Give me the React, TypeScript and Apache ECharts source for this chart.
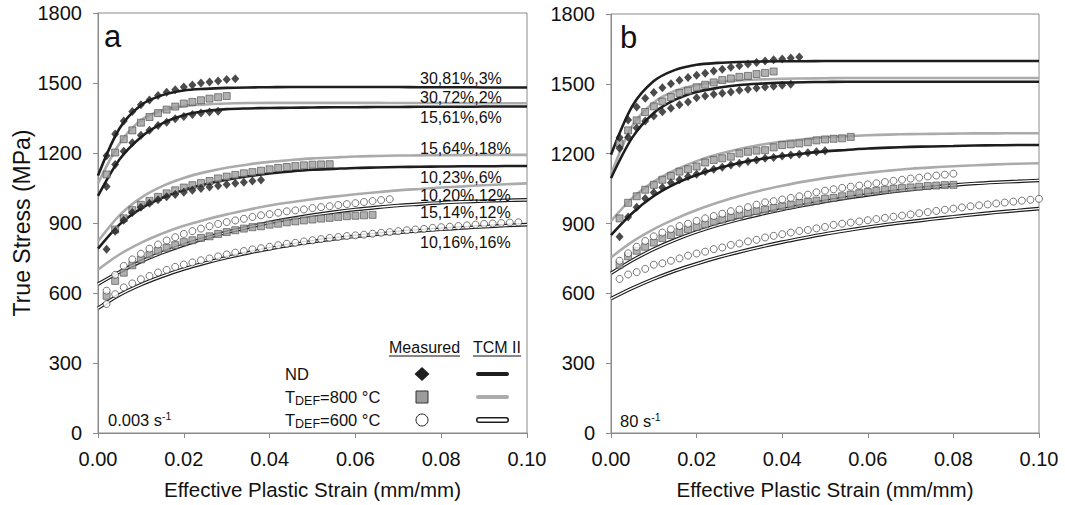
import React, { useEffect, useRef } from "react";
import * as echarts from "echarts";

// ---------- data ----------
const STRAIN_STEPS = [
  0.002, 0.004, 0.006, 0.008, 0.01, 0.012, 0.014, 0.016, 0.018, 0.02,
  0.022, 0.024, 0.026, 0.028, 0.03, 0.032, 0.034, 0.036, 0.038, 0.04,
  0.042, 0.044, 0.046, 0.048, 0.05, 0.052, 0.054, 0.056, 0.058, 0.06,
  0.062, 0.064, 0.066, 0.068, 0.07, 0.072, 0.074, 0.076, 0.078, 0.08,
  0.082, 0.084, 0.086, 0.088, 0.09, 0.092, 0.094, 0.096, 0.098, 0.1,
];
const LINE_STRAIN = [
  0, 0.005, 0.01, 0.015, 0.02, 0.025, 0.03, 0.035, 0.04, 0.045, 0.05,
  0.055, 0.06, 0.065, 0.07, 0.075, 0.08, 0.085, 0.09, 0.095, 0.1,
];

const X_TICKS = ["0.00", "0.02", "0.04", "0.06", "0.08", "0.10"];
const Y_TICKS = [0, 300, 600, 900, 1200, 1500, 1800];

// Panel a (0.003 s-1) — TCM II model lines
const lineA_ND1 = [1103, 1305, 1405, 1448, 1468, 1475, 1479, 1481, 1482, 1483, 1483, 1483, 1483, 1483, 1483, 1482, 1482, 1482, 1481, 1481, 1481];
const lineA_800_1 = [1070, 1240, 1340, 1383, 1401, 1408, 1412, 1414, 1415, 1415, 1415, 1415, 1415, 1415, 1414, 1414, 1414, 1414, 1413, 1413, 1413];
const lineA_ND2 = [1016, 1172, 1268, 1327, 1362, 1380, 1388, 1391, 1393, 1394, 1395, 1396, 1396, 1397, 1397, 1398, 1398, 1398, 1399, 1399, 1399];
const lineA_800_2 = [822, 933, 1008, 1058, 1093, 1118, 1137, 1151, 1162, 1170, 1177, 1181, 1185, 1187, 1189, 1190, 1191, 1191, 1192, 1192, 1192];
const lineA_ND3 = [790, 893, 962, 1008, 1042, 1066, 1085, 1100, 1112, 1121, 1128, 1132, 1136, 1138, 1140, 1141, 1142, 1143, 1143, 1144, 1144];
const lineA_800_3 = [700, 765, 815, 855, 888, 914, 937, 957, 975, 989, 1002, 1013, 1023, 1032, 1040, 1046, 1052, 1057, 1062, 1066, 1070];
const lineA_600_1 = [638, 690, 735, 773, 806, 835, 860, 882, 902, 919, 934, 947, 958, 967, 975, 981, 987, 991, 994, 997, 999];
const lineA_600_2 = [535, 592, 636, 672, 703, 729, 752, 772, 790, 806, 820, 832, 843, 852, 860, 867, 873, 879, 884, 889, 893];

// Panel a — measured
const measA_ND1 = [1188, 1281, 1337, 1378, 1407, 1427, 1446, 1460, 1471, 1483, 1491, 1500, 1504, 1509, 1515, 1518];
const measA_ND2 = [1056, 1151, 1207, 1244, 1276, 1297, 1318, 1332, 1347, 1356, 1365, 1371, 1376, 1379];
const measA_ND3 = [787, 865, 912, 945, 967, 985, 1000, 1012, 1022, 1032, 1040, 1048, 1054, 1060, 1065, 1070, 1075, 1080, 1084];
const measA_800_1 = [1108, 1202, 1259, 1297, 1330, 1354, 1371, 1386, 1399, 1412, 1419, 1426, 1433, 1439, 1444];
const measA_800_2 = [null, 872, 920, 955, 978, 995, 1012, 1027, 1040, 1052, 1062, 1071, 1080, 1091, 1099, 1106, 1113, 1118, 1124, 1130, 1136, 1140, 1144, 1147, 1150, 1151, 1152];
const measA_800_3 = [588, 652, 687, 719, 744, 765, 781, 794, 805, 818, 826, 836, 843, 853, 861, 869, 876, 882, 886, 893, 897, 903, 907, 911, 915, 919, 922, 926, 929, 931, 933, 935];
const measA_600_1 = [610, 678, 716, 744, 768, 790, 808, 825, 839, 853, 865, 876, 886, 896, 904, 911, 918, 926, 933, 938, 944, 950, 954, 958, 964, 968, 972, 977, 981, 985, 990, 994, 998, 1002];
const measA_600_2 = [553, 595, 624, 641, 659, 673, 688, 699, 712, 722, 731, 740, 748, 757, 765, 773, 780, 787, 792, 798, 805, 811, 815, 821, 826, 831, 836, 840, 844, 847, 850, 854, 858, 861, 865, 869, 872, 875, 879, 882, 884, 887, 890, 893, 896, 898, 900, 902, 903];

// Panel b (80 s-1) — TCM II model lines
const lineB_ND1 = [1195, 1405, 1512, 1560, 1582, 1590, 1594, 1596, 1597, 1597, 1598, 1598, 1598, 1598, 1598, 1598, 1598, 1598, 1598, 1598, 1598];
const lineB_800_1 = [1110, 1320, 1420, 1470, 1495, 1508, 1515, 1519, 1522, 1523, 1524, 1525, 1525, 1525, 1525, 1525, 1525, 1525, 1525, 1525, 1525];
const lineB_ND2 = [1095, 1270, 1375, 1432, 1465, 1483, 1495, 1501, 1505, 1507, 1508, 1509, 1509, 1509, 1509, 1509, 1509, 1509, 1509, 1509, 1509];
const lineB_800_2 = [910, 1010, 1080, 1130, 1168, 1197, 1220, 1238, 1252, 1262, 1270, 1275, 1279, 1282, 1284, 1285, 1286, 1287, 1287, 1288, 1288];
const lineB_ND3 = [850, 945, 1018, 1070, 1108, 1137, 1160, 1177, 1190, 1201, 1210, 1216, 1222, 1226, 1229, 1231, 1233, 1235, 1236, 1237, 1237];
const lineB_800_3 = [754, 822, 876, 920, 958, 990, 1018, 1042, 1062, 1080, 1095, 1107, 1118, 1127, 1135, 1141, 1146, 1150, 1154, 1157, 1159];
const lineB_600_1 = [686, 742, 790, 830, 864, 893, 918, 940, 960, 978, 995, 1010, 1023, 1035, 1046, 1056, 1065, 1072, 1077, 1081, 1085];
const lineB_600_2 = [577, 622, 662, 697, 727, 754, 778, 800, 820, 838, 855, 870, 884, 897, 908, 919, 929, 939, 948, 956, 964];

// Panel b — measured
const measB_ND1 = [1269, 1345, 1400, 1438, 1463, 1483, 1500, 1515, 1527, 1537, 1546, 1555, 1563, 1571, 1578, 1585, 1592, 1598, 1603, 1607, 1611, 1615];
const measB_ND2 = [1223, 1270, 1310, 1340, 1362, 1380, 1395, 1410, 1422, 1440, 1448, 1455, 1460, 1465, 1472, 1477, 1482, 1486, 1490, 1494, 1498];
const measB_ND3 = [843, 928, 970, 1007, 1033, 1055, 1075, 1088, 1102, 1112, 1123, 1133, 1142, 1151, 1159, 1166, 1173, 1180, 1184, 1190, 1194, 1198, 1204, 1208, 1212];
const measB_800_1 = [1244, 1300, 1343, 1379, 1403, 1424, 1443, 1460, 1471, 1485, 1496, 1506, 1516, 1523, 1530, 1534, 1542, 1547, 1553];
const measB_800_2 = [922, 989, 1017, 1045, 1066, 1088, 1105, 1123, 1133, 1145, 1162, 1173, 1180, 1187, 1201, 1208, 1213, 1215, 1227, 1237, 1240, 1244, 1249, 1257, 1261, 1264, 1266, 1272];
const measB_800_3 = [723, 759, 783, 800, 818, 837, 850, 864, 875, 885, 896, 908, 917, 927, 936, 946, 953, 960, 967, 974, 981, 989, 993, 998, 1006, 1010, 1017, 1024, 1030, 1035, 1041, 1045, 1049, 1052, 1055, 1058, 1061, 1063, 1065, 1066];
const measB_600_1 = [740, 772, 800, 825, 845, 861, 875, 889, 899, 911, 922, 932, 942, 953, 960, 970, 981, 991, 996, 1003, 1010, 1017, 1024, 1034, 1041, 1047, 1053, 1058, 1063, 1068, 1073, 1078, 1083, 1088, 1093, 1097, 1102, 1106, 1110, 1114];
const measB_600_2 = [662, 681, 691, 705, 723, 729, 740, 750, 762, 771, 779, 790, 797, 808, 814, 823, 830, 840, 847, 854, 861, 868, 872, 879, 885, 894, 899, 904, 909, 914, 919, 924, 929, 934, 939, 944, 949, 954, 959, 964, 969, 974, 978, 982, 986, 990, 994, 998, 1002, 1006];

// annotations (panel a)
const annotationsA = ["30,81%,3%", "30,72%,2%", "15,61%,6%", "15,64%,18%", "10,23%,6%", "10,20%,12%", "15,14%,12%", "10,16%,16%"];

// ---------- styling ----------
const FONT = "'Liberation Sans', Arial, Helvetica, sans-serif";
const AXIS_GRAY = "#8a8a8a";
const BLACK = "#1e1e1e";
const GRAY = "#ababab";

function lineSeries(ys: number[], color: string, width: number, gi: number, z = 2) {
  return {
    type: "line",
    xAxisIndex: gi,
    yAxisIndex: gi,
    data: LINE_STRAIN.map((x, i) => [x, ys[i]]),
    smooth: 0.3,
    showSymbol: false,
    silent: true,
    lineStyle: { color, width },
    z,
  };
}

function doubleLine(ys: number[], gi: number) {
  return [lineSeries(ys, BLACK, 3.6, gi, 2), lineSeries(ys, "#ffffff", 1.3, gi, 3)];
}

function measured(ys: (number | null)[], kind: "nd" | "800" | "600", gi: number) {
  const data: number[][] = [];
  ys.forEach((y, i) => {
    if (y !== null) data.push([STRAIN_STEPS[i], y]);
  });
  const base: any = {
    type: "scatter",
    xAxisIndex: gi,
    yAxisIndex: gi,
    data,
    silent: true,
    z: 5,
  };
  if (kind === "nd") {
    base.symbol = "diamond";
    base.symbolSize = [8, 9];
    base.itemStyle = { color: BLACK };
  } else if (kind === "800") {
    base.symbol = "rect";
    base.symbolSize = 7;
    base.itemStyle = { color: "#9c9c9c", borderColor: "#4a4a4a", borderWidth: 0.8 };
  } else {
    base.symbol = "circle";
    base.symbolSize = 7;
    base.itemStyle = { color: "#ffffff", borderColor: "#2a2a2a", borderWidth: 0.8 };
  }
  return base;
}

function xAxis(gi: number) {
  return {
    type: "value",
    gridIndex: gi,
    min: 0,
    max: 0.1,
    interval: 0.02,
    axisLine: { show: true, lineStyle: { color: AXIS_GRAY, width: 1 } },
    axisTick: { show: true, inside: false, length: 5, lineStyle: { color: AXIS_GRAY } },
    axisLabel: {
      fontFamily: FONT,
      fontSize: 20,
      color: "#111",
      margin: 16,
      formatter: (v: number) => X_TICKS[Math.round(v / 0.02)],
    },
    splitLine: { show: false },
    name: "Effective Plastic Strain (mm/mm)",
    nameLocation: "middle",
    nameGap: 46,
    nameTextStyle: { fontFamily: FONT, fontSize: 20.5, color: "#111" },
  };
}

function yAxis(gi: number, withName: boolean) {
  return {
    type: "value",
    gridIndex: gi,
    min: Y_TICKS[0],
    max: Y_TICKS[Y_TICKS.length - 1],
    interval: 300,
    axisLine: { show: true, lineStyle: { color: AXIS_GRAY, width: 1 } },
    axisTick: { show: true, inside: false, length: 5, lineStyle: { color: AXIS_GRAY } },
    axisLabel: { fontFamily: FONT, fontSize: 20, color: "#111", margin: 16, formatter: (v: number) => String(v) },
    splitLine: { show: false },
    name: withName ? "True Stress (MPa)" : "",
    nameLocation: "middle",
    nameGap: 64,
    nameRotate: 90,
    nameTextStyle: { fontFamily: FONT, fontSize: 23, color: "#111" },
  };
}

function txt(x: number, y: number, text: string, fontSize: number, extra: any = {}) {
  return {
    type: "text",
    x,
    y,
    silent: true,
    z: 20,
    style: {
      text,
      fontFamily: FONT,
      fontSize,
      fill: "#111",
      verticalAlign: "middle",
      align: "left",
      ...extra,
    },
  };
}

const annY = [78, 97, 117, 148, 177, 195, 212, 242];

function buildGraphics() {
  const g: any[] = [];
  g.push(txt(104, 36, "a", 31));
  g.push(txt(620, 37, "b", 31));
  annotationsA.forEach((t, i) => g.push(txt(420, annY[i], t, 16)));
  const rich = {
    n: { fontFamily: FONT, fontSize: 16.5, fill: "#111", lineHeight: 20, verticalAlign: "middle" },
    sup: { fontFamily: FONT, fontSize: 10.5, fill: "#111", lineHeight: 20, verticalAlign: "top" },
    sub: { fontFamily: FONT, fontSize: 12.5, fill: "#111", lineHeight: 17, verticalAlign: "bottom" },
  };
  g.push({ type: "text", x: 108, y: 420, z: 20, silent: true, style: { text: "{n|0.003 s}{sup|-1}", rich, verticalAlign: "middle" } });
  g.push({ type: "text", x: 620, y: 421, z: 20, silent: true, style: { text: "{n|80 s}{sup|-1}", rich, verticalAlign: "middle" } });
  // legend
  g.push(txt(389, 347, "Measured", 16));
  g.push(txt(473, 347, "TCM II", 16));
  g.push({ type: "line", z: 20, silent: true, shape: { x1: 389, y1: 356, x2: 460, y2: 356 }, style: { stroke: "#111", lineWidth: 1 } });
  g.push({ type: "line", z: 20, silent: true, shape: { x1: 473, y1: 356, x2: 521, y2: 356 }, style: { stroke: "#111", lineWidth: 1 } });
  g.push(txt(285, 374, "ND", 16.5));
  g.push({ type: "text", x: 285, y: 397, z: 20, silent: true, style: { text: "{n|T}{sub|DEF}{n|=800 °C}", rich, verticalAlign: "middle" } });
  g.push({ type: "text", x: 285, y: 420, z: 20, silent: true, style: { text: "{n|T}{sub|DEF}{n|=600 °C}", rich, verticalAlign: "middle" } });
  // legend keys
  g.push({ type: "polygon", z: 20, silent: true, shape: { points: [[422, 367], [429.5, 374], [422, 381], [414.5, 374]] }, style: { fill: BLACK } });
  g.push({ type: "rect", z: 20, silent: true, shape: { x: 416, y: 391, width: 12, height: 12 }, style: { fill: "#9c9c9c", stroke: "#333", lineWidth: 1 } });
  g.push({ type: "circle", z: 20, silent: true, shape: { cx: 422, cy: 420, r: 6 }, style: { fill: "#fff", stroke: "#222", lineWidth: 1 } });
  g.push({ type: "line", z: 20, silent: true, shape: { x1: 478, y1: 374, x2: 507, y2: 374 }, style: { stroke: BLACK, lineWidth: 4, lineCap: "round" } });
  g.push({ type: "line", z: 20, silent: true, shape: { x1: 478, y1: 397, x2: 507, y2: 397 }, style: { stroke: GRAY, lineWidth: 4, lineCap: "round" } });
  g.push({ type: "line", z: 20, silent: true, shape: { x1: 479, y1: 420, x2: 506, y2: 420 }, style: { stroke: BLACK, lineWidth: 6, lineCap: "round" } });
  g.push({ type: "line", z: 21, silent: true, shape: { x1: 479, y1: 420, x2: 506, y2: 420 }, style: { stroke: "#fff", lineWidth: 3, lineCap: "round" } });
  return g;
}

export default function App() {
  const ref = useRef<HTMLDivElement>(null);
  useEffect(() => {
    document.body.style.margin = "0";
    const chart = echarts.init(ref.current as HTMLDivElement, null, { renderer: "svg" });
    const series: any[] = [
      lineSeries(lineA_ND1, BLACK, 2.6, 0),
      lineSeries(lineA_800_1, GRAY, 2.6, 0),
      lineSeries(lineA_ND2, BLACK, 2.6, 0),
      lineSeries(lineA_800_2, GRAY, 2.6, 0),
      lineSeries(lineA_ND3, BLACK, 2.6, 0),
      lineSeries(lineA_800_3, GRAY, 2.6, 0),
      ...doubleLine(lineA_600_1, 0),
      ...doubleLine(lineA_600_2, 0),
      measured(measA_800_1, "800", 0),
      measured(measA_800_2, "800", 0),
      measured(measA_800_3, "800", 0),
      measured(measA_600_1, "600", 0),
      measured(measA_600_2, "600", 0),
      measured(measA_ND1, "nd", 0),
      measured(measA_ND2, "nd", 0),
      measured(measA_ND3, "nd", 0),
      lineSeries(lineB_ND1, BLACK, 2.6, 1),
      lineSeries(lineB_800_1, GRAY, 2.6, 1),
      lineSeries(lineB_ND2, BLACK, 2.6, 1),
      lineSeries(lineB_800_2, GRAY, 2.6, 1),
      lineSeries(lineB_ND3, BLACK, 2.6, 1),
      lineSeries(lineB_800_3, GRAY, 2.6, 1),
      ...doubleLine(lineB_600_1, 1),
      ...doubleLine(lineB_600_2, 1),
      measured(measB_800_1, "800", 1),
      measured(measB_800_2, "800", 1),
      measured(measB_800_3, "800", 1),
      measured(measB_600_1, "600", 1),
      measured(measB_600_2, "600", 1),
      measured(measB_ND1, "nd", 1),
      measured(measB_ND2, "nd", 1),
      measured(measB_ND3, "nd", 1),
    ];
    chart.setOption({
      animation: false,
      backgroundColor: "#ffffff",
      textStyle: { fontFamily: FONT },
      grid: [
        { left: 98, top: 13, width: 429, height: 424, show: true, borderColor: AXIS_GRAY, borderWidth: 1, backgroundColor: "transparent" },
        { left: 611, top: 14, width: 428, height: 423, show: true, borderColor: AXIS_GRAY, borderWidth: 1, backgroundColor: "transparent" },
      ],
      xAxis: [xAxis(0), xAxis(1)],
      yAxis: [yAxis(0, true), yAxis(1, false)],
      series,
      graphic: buildGraphics(),
    });
    return () => chart.dispose();
  }, []);
  return <div ref={ref} style={{ width: 1065, height: 505 }} />;
}
